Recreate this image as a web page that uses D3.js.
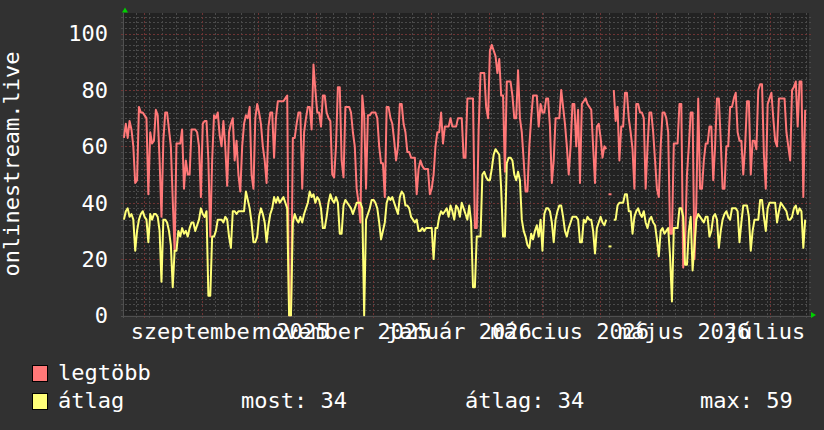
<!DOCTYPE html>
<html>
<head>
<meta charset="utf-8">
<script src="https://cdn.jsdelivr.net/npm/d3@7"></script>
<style>
  body { margin: 0; background: #313131; }
  svg { display: block; }
  text { font-family: "DejaVu Sans Mono", monospace; font-size: 22px; fill: #ffffff; }
</style>
</head>
<body>
<svg id="chart" width="824" height="430"></svg>
<script>
"use strict";

// one value per day, starting Monday 2025-07-21
const startDate = new Date(2025, 6, 21);
const endDate = new Date(2026, 6, 21);

const legtobb = [
  63, 68, 63, 69, 66, 60, 47,
  48, 74, 72, 72, 71, 70, 43,
  65, 61, 62, 73, 71, 55, 35,
  62, 72, 72, 66, 60, 41, 23,
  61, 61, 61, 66, 45, 55, 50,
  50, 66, 66, 66, 65, 60, 42,
  68, 69, 69, 55, 28, 55, 71,
  70, 72, 64, 60, 69, 60, 46,
  65, 68, 70, 55, 62, 50, 44,
  60, 68, 71, 70, 74, 50, 45,
  70, 75, 72, 68, 60, 55, 47,
  67, 72, 72, 56, 70, 76, 76,
  76, 76, 77, 78, 0, 0, 63,
  63, 68, 72, 72, 45, 65, 70,
  74, 74, 66, 89, 80, 72, 72,
  67, 78, 78, 72, 70, 69, 50,
  49, 60, 81, 81, 55, 49, 74,
  74, 74, 72, 65, 60, 45, 40,
  33, 78, 71, 45, 71, 71, 72,
  72, 72, 70, 60, 54, 54, 42,
  74, 74, 70, 68, 62, 55, 60,
  75, 75, 68, 65, 58, 58, 56,
  56, 56, 43, 52, 55, 53, 52,
  52, 52, 43, 45, 50, 60, 65,
  65, 72, 61, 67, 67, 67, 70,
  67, 67, 67, 70, 70, 70, 56,
  56, 77, 77, 77, 77, 31, 31,
  66, 86, 86, 86, 74, 70, 94,
  96, 94, 92, 86, 91, 78, 78,
  51, 83, 83, 83, 78, 70, 70,
  87, 70, 65, 55, 44, 44, 60,
  70, 78, 78, 78, 67, 75, 72,
  72, 77, 77, 67, 47, 55, 70,
  70, 70, 80, 74, 68, 60, 50,
  60, 75, 75, 60, 73, 47, 75,
  76, 77, 75, 74, 73, 60, 47,
  67, 68, 63, 56, 60, 59, null,
  43, null, 80, 69, 74, 55, 67,
  67, 79, 79, 70, 65, 59, 45,
  75, 75, 72, 72, 70, 45, 60,
  72, 72, 65, 55, 45, 42, 60,
  72, 72, 70, 65, 29, 29, 61,
  61, 61, 75, 75, 17, 25, 50,
  60, 72, 72, 20, 40, 77, 45,
  45, 55, 61, 61, 67, 67, 48,
  60, 77, 77, 62, 45, 45, 60,
  60, 74, 74, 77, 79, 65, 62,
  62, 50, 60, 76, 76, 50, 62,
  62, 59, 80, 82, 82, 57, 45,
  75, 77, 79, 70, 62, 60, 77,
  77, 77, 77, 65, 60, 55, 80,
  81, 83, 67, 83, 83, 42, 73
];

const atlag = [
  34, 37, 38, 35, 36, 34, 23,
  30, 34, 36, 37, 35, 34, 26,
  36, 34, 36, 36, 35, 30, 12,
  34, 34, 33, 30, 25, 10, 23,
  23, 30, 28, 31, 29, 30, 28,
  31, 33, 33, 30, 32, 34, 38,
  36, 35, 37, 7, 7, 28, 28,
  30, 34, 34, 34, 33, 35, 34,
  28, 24, 37, 37, 36, 37, 37,
  37, 37, 44, 41, 38, 33, 26,
  26, 28, 35, 38, 36, 33, 26,
  32, 36, 38, 42, 40, 42, 40,
  41, 42, 40, 38, 0, 0, 33,
  36, 34, 33, 35, 33, 36, 38,
  40, 44, 42, 43, 40, 42, 41,
  38, 31, 31, 35, 40, 43, 41,
  40, 42, 40, 29, 29, 39, 41,
  40, 39, 38, 36, 38, 40, 40,
  40, 38, 0, 34, 36, 38, 41,
  41, 40, 38, 33, 27, 30, 33,
  40, 42, 41, 42, 40, 38, 36,
  42, 44, 43, 39, 39, 38, 35,
  34, 33, 34, 30, 30, 31, 30,
  31, 31, 31, 31, 20, 31, 31,
  35, 37, 36, 37, 38, 35, 39,
  37, 34, 39, 38, 35, 40, 38,
  36, 34, 39, 33, 10, 10, 28,
  28, 28, 50, 51, 49, 48, 48,
  52, 57, 59, 58, 57, 45, 28,
  28, 54, 56, 56, 55, 50, 48,
  51, 48, 34, 30, 28, 25, 24,
  29, 27, 30, 32, 28, 34, 23,
  36, 38, 38, 37, 33, 26, 34,
  37, 39, 39, 35, 30, 28, 31,
  33, 35, 35, 35, 34, 26, 26,
  34, 33, 35, 34, 34, 30, 22,
  31, 33, 35, 33, 32, 34, null,
  24.5, null, 34, 34, 39, 40, 40,
  40, 43, 43, 37, 37, 29, 35,
  37, 38, 36, 35, 37, 33, 31,
  34, 35, 33, 32, 27, 21, 30,
  31, 29, 30, 31, 21, 5, 31,
  31, 31, 38, 38, 35, 18, 18,
  30, 35, 16, 25, 34, 36, 35,
  34, 33, 35, 35, 28, 30, 35,
  36, 34, 24, 30, 34, 36, 37,
  35, 34, 38, 38, 38, 37, 26,
  33, 39, 39, 39, 35, 23, 30,
  34, 34, 34, 41, 41, 35, 30,
  38, 40, 40, 40, 40, 33, 37,
  40, 39, 38, 37, 34, 34, 35,
  38, 39, 36, 38, 37, 24, 34
];

const yTicks = [0, 20, 40, 60, 80, 100];
const yMax = 107.3;
const labelMonths = [
  new Date(2025, 8, 1), new Date(2025, 10, 1), new Date(2026, 0, 1),
  new Date(2026, 2, 1), new Date(2026, 4, 1), new Date(2026, 6, 1)
];
const labelTexts = [
  "szeptember 2025", "november 2025", "január 2026",
  "március 2026", "május 2026", "július 2026"
];
const seriesNames = ["legtöbb", "átlag"];
const seriesColors = ["#ff7878", "#ffff78"];
const statLabels = ["most: 34", "átlag: 34", "max: 59"];

const svg = d3.select("#chart");
const plot = { left: 123, right: 809, top: 13, bottom: 315.5 };

const x = d3.scaleTime().domain([startDate, endDate]).range([plot.left, 808]);
const y = d3.scaleLinear().domain([0, yMax]).range([plot.bottom, plot.top]);

svg.append("rect").attr("width", 824).attr("height", 430).attr("fill", "#313131");
svg.append("rect")
  .attr("x", plot.left).attr("y", plot.top)
  .attr("width", plot.right - plot.left).attr("height", plot.bottom - plot.top)
  .attr("fill", "#222222");

svg.append("clipPath").attr("id", "clip")
  .append("rect")
  .attr("x", plot.left).attr("y", plot.top - 2)
  .attr("width", plot.right - plot.left).attr("height", plot.bottom - plot.top + 3);

// grid
const grid = svg.append("g").attr("shape-rendering", "crispEdges");
const minorY = d3.range(0, yMax, 2).filter((v) => v % 20 !== 0);
grid.selectAll(".hmin").data(minorY).join("line")
  .attr("x1", plot.left - 2).attr("x2", plot.right + 2)
  .attr("y1", (d) => Math.round(y(d)) + 0.5).attr("y2", (d) => Math.round(y(d)) + 0.5)
  .attr("stroke", "#4a4a4a").attr("stroke-dasharray", "2,2");

const weeks = d3.timeMonday.range(startDate, endDate)
  .filter((d) => d.getDate() !== 1);
grid.selectAll(".vmin").data(weeks).join("line")
  .attr("x1", (d) => Math.round(x(d)) + 0.5).attr("x2", (d) => Math.round(x(d)) + 0.5)
  .attr("y1", plot.top).attr("y2", plot.bottom + 2)
  .attr("stroke", "#4a4a4a").attr("stroke-dasharray", "2,2");

grid.selectAll(".hmaj").data(yTicks.slice(1)).join("line")
  .attr("x1", plot.left - 2).attr("x2", plot.right + 2)
  .attr("y1", (d) => Math.round(y(d)) + 0.5).attr("y2", (d) => Math.round(y(d)) + 0.5)
  .attr("stroke", "#6e3434").attr("stroke-dasharray", "2,2");

const months = d3.timeMonth.range(d3.timeMonth.ceil(startDate), endDate);
grid.selectAll(".vmaj").data(months).join("line")
  .attr("x1", (d) => Math.round(x(d)) + 0.5).attr("x2", (d) => Math.round(x(d)) + 0.5)
  .attr("y1", plot.top).attr("y2", plot.bottom + 2)
  .attr("stroke", "#6e3434").attr("stroke-dasharray", "2,2");

// axes
grid.append("line")
  .attr("x1", plot.left - 2).attr("x2", plot.right + 2)
  .attr("y1", Math.round(plot.bottom) + 0.5).attr("y2", Math.round(plot.bottom) + 0.5)
  .attr("stroke", "#505050");
grid.append("line")
  .attr("x1", plot.left + 0.5).attr("x2", plot.left + 0.5)
  .attr("y1", plot.top).attr("y2", plot.bottom + 2)
  .attr("stroke", "#505050");

svg.append("path")
  .attr("d", "M122,12.5 L128,12.5 L125,7.5 Z").attr("fill", "#00d000");
svg.append("path")
  .attr("d", "M811,312 L811,318 L816,315 Z").attr("fill", "#00d000");

// y tick labels
svg.selectAll(".ylab").data(yTicks).join("text")
  .attr("x", 108).attr("y", (d) => y(d) + 7.8)
  .attr("text-anchor", "end").text((d) => d);

// x labels, centred half a month after the month start
svg.append("clipPath").attr("id", "labclip")
  .append("rect").attr("x", 0).attr("y", 300).attr("width", 816).attr("height", 60);
svg.append("g").attr("clip-path", "url(#labclip)")
  .selectAll("text").data(labelMonths).join("text")
  .attr("x", (d) => x(d3.timeDay.offset(d, 15)))
  .attr("y", 339)
  .attr("text-anchor", "middle")
  .text((d, i) => labelTexts[i]);

// y title
svg.append("text")
  .attr("transform", "translate(19,164) rotate(-90)")
  .attr("text-anchor", "middle")
  .text("onlinestream.live");

// series, one point in the middle of each day
const dayX = (i) => x(d3.timeHour.offset(startDate, i * 24 + 12));
const line = d3.line()
  .defined((d) => d != null)
  .x((d, i) => dayX(i))
  .y((d) => y(d));

const lines = svg.append("g").attr("clip-path", "url(#clip)");
[legtobb, atlag].forEach((series, k) => {
  lines.append("path")
    .attr("d", line(series))
    .attr("fill", "none")
    .attr("stroke", seriesColors[k])
    .attr("stroke-width", 2)
    .attr("stroke-linejoin", "round");
  const lone = series
    .map((v, i) => ({ v, i }))
    .filter((d) => d.v != null && d.i > 0 && series[d.i - 1] == null && series[d.i + 1] == null);
  lines.selectAll(null).data(lone).join("rect")
    .attr("x", (d) => dayX(d.i) - 1.5)
    .attr("y", (d) => y(d.v) - 1)
    .attr("width", 3).attr("height", 2)
    .attr("fill", seriesColors[k]);
});

// legend
const legend = svg.append("g");
[0, 1].forEach((k) => {
  const top = 365 + k * 28;
  legend.append("rect")
    .attr("x", 32.5).attr("y", top + 0.5).attr("width", 15).attr("height", 16)
    .attr("fill", seriesColors[k]).attr("stroke", "#000");
  legend.append("text").attr("x", 58).attr("y", top + 15).text(seriesNames[k]);
});
const statX = [241, 465, 700];
legend.selectAll(".stat").data(statLabels).join("text")
  .attr("x", (d, i) => statX[i]).attr("y", 408).text((d) => d);
</script>
</body>
</html>
